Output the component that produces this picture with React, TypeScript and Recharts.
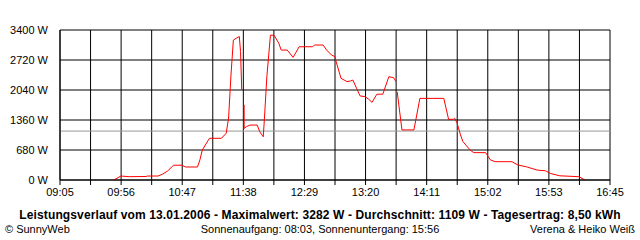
import { LineChart, Line, XAxis, YAxis, CartesianGrid, ReferenceLine } from 'recharts';

// Zeitpunkte (hh:mm) und Leistung in W
const times = [
  '09:50', '09:56', '10:03', '10:17', '10:18', '10:27', '10:31', '10:35', '10:40', '10:47',
  '10:50', '11:00', '11:02', '11:04', '11:10', '11:20', '11:24', '11:26', '11:28', '11:30',
  '11:33', '11:35', '11:36', '11:37', '11:38', '11:39', '11:39', '11:41', '11:44', '11:50',
  '11:52', '11:55', '11:56', '11:58', '12:01', '12:04', '12:08', '12:10', '12:15', '12:20',
  '12:25', '12:36', '12:38', '12:45', '12:48', '12:52', '12:55', '12:56', '13:00', '13:05',
  '13:08', '13:10', '13:13', '13:16', '13:20', '13:23', '13:26', '13:30', '13:35', '13:40',
  '13:44', '13:46', '13:46', '13:47', '13:51', '14:01', '14:06', '14:26', '14:30', '14:34',
  '14:35', '14:37', '14:40', '14:42', '14:48', '14:51', '15:01', '15:05', '15:09', '15:23',
  '15:28', '15:35', '15:44', '15:51', '15:55', '16:03', '16:19', '16:24',
];
const watts: (number | null)[] = [
  0, 90, 75, 80, 90, 90, 135, 205, 335, 335,
  295, 295, 455, 680, 945, 945, 1060, 1405, 2380, 3170,
  3225, 3250, 2910, 2040, null, 1700, 1170, 1210, 1245, 1245,
  1095, 980, 1405, 2340, 3282, 3282, 3100, 2945, 2945, 2780,
  3020, 3020, 3060, 3060, 2945, 2835, 2795, 2680, 2305, 2230,
  2245, 2265, 2080, 1905, 1890, 1835, 1760, 1945, 1945, 2340,
  2320, 2230, null, 2000, 1135, 1135, 1850, 1850, 1375, 1375,
  1400, 1300, 1020, 870, 680, 620, 620, 455, 415, 415,
  340, 300, 225, 210, 150, 95, 75, 0,
];

const xLabels = ['09:05', '09:56', '10:47', '11:38', '12:29', '13:20', '14:11', '15:02', '15:53', '16:45'];
const yTicks = [0, 680, 1360, 2040, 2720, 3400];
const average = 1109;

const toMin = (s: string) => {
  const [h, m] = s.split(':').map(Number);
  return h * 60 + m;
};

const data = times.map((t, i) => ({ t: toMin(t), w: watts[i] }));

const xStart = toMin(xLabels[0]);
const xEnd = toMin(xLabels[xLabels.length - 1]);
const steps = (xLabels.length - 1) * 2;
const xTicks = Array.from({ length: steps + 1 }, (_, i) => xStart + (i * (xEnd - xStart)) / steps);

const fmtX = (v: number) => {
  const i = xTicks.findIndex((t) => Math.abs(t - v) < 0.01);
  return i % 2 === 0 ? xLabels[i / 2] : '';
};

const font = '"Liberation Sans", Arial, sans-serif';

export default function App() {
  return (
    <div style={{ position: 'absolute', left: 0, top: 0, width: 640, height: 240, background: '#fff', fontFamily: font }}>
      <LineChart width={640} height={205} data={data} margin={{ top: 30, right: 30, left: 0, bottom: 0 }}>
        <CartesianGrid stroke="#000" strokeWidth={1} />
        <XAxis
          type="number"
          dataKey="t"
          domain={[xStart, xEnd]}
          ticks={xTicks}
          interval={0}
          tickFormatter={fmtX}
          tickSize={5}
          tickMargin={3}
          height={25}
          stroke="#000"
          tick={{ fill: '#000', fontSize: 11, fontFamily: font }}
          allowDataOverflow
        />
        <YAxis
          domain={[0, 3400]}
          ticks={yTicks}
          interval={0}
          width={60}
          tickLine={false}
          tickMargin={6}
          stroke="#000"
          tickFormatter={(v) => `${v} W`}
          tick={{ fill: '#000', fontSize: 11, fontFamily: font }}
        />
        <ReferenceLine y={average} stroke="#999" strokeWidth={1} />
        <Line type="linear" dataKey="w" stroke="#ff0000" strokeWidth={1} dot={false} isAnimationActive={false} connectNulls={false} />
      </LineChart>
      <div style={{ position: 'absolute', top: 208, left: 0, width: 640, textAlign: 'center', fontSize: 12, fontWeight: 'bold', letterSpacing: 0.12, color: '#000' }}>
        Leistungsverlauf vom 13.01.2006 - Maximalwert: 3282 W - Durchschnitt: 1109 W - Tagesertrag: 8,50 kWh
      </div>
      <div style={{ position: 'absolute', top: 223, left: 5, fontSize: 11, color: '#000' }}>© SunnyWeb</div>
      <div style={{ position: 'absolute', top: 223, left: 0, width: 640, textAlign: 'center', fontSize: 11, color: '#000' }}>
        Sonnenaufgang: 08:03, Sonnenuntergang: 15:56
      </div>
      <div style={{ position: 'absolute', top: 223, right: 5, fontSize: 11, color: '#000' }}>Verena &amp; Heiko Weiß</div>
    </div>
  );
}
